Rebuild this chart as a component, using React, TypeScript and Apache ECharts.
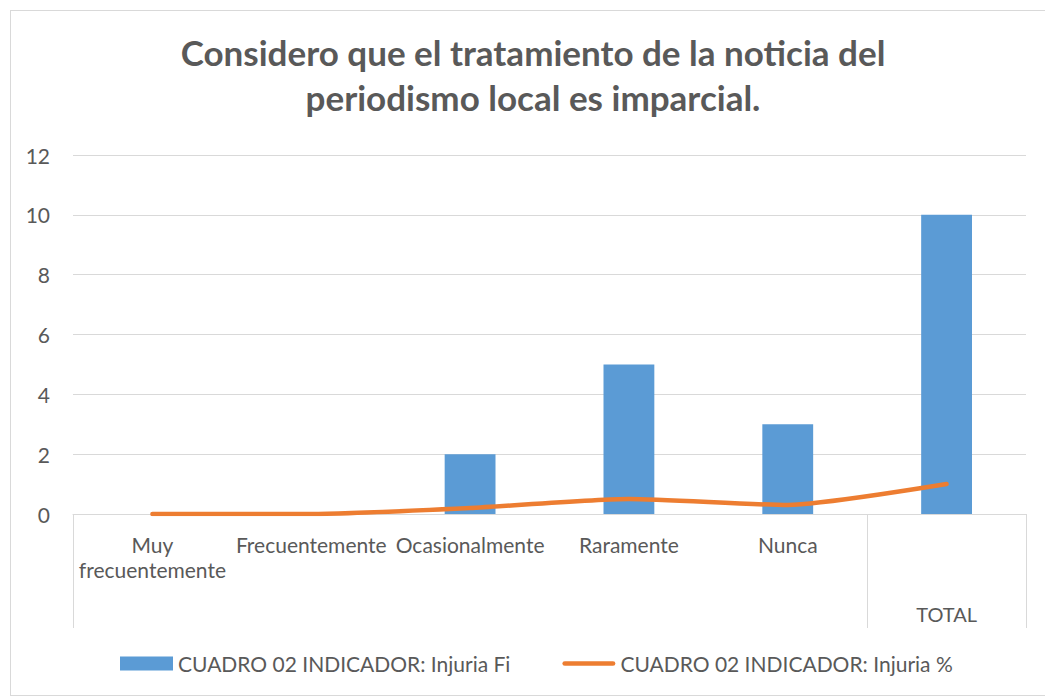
import React, { useEffect, useRef } from "react";
import * as echarts from "echarts";

const categories = ["Muy\nfrecuentemente", "Frecuentemente", "Ocasionalmente", "Raramente", "Nunca", "TOTAL"];
const fiValues = [0, 0, 2, 5, 3, 10];
const pctValues = [0, 0, 0.2, 0.5, 0.3, 1];
const yTicks = { min: 0, max: 12, interval: 2 };
const titleText = "Considero que el tratamiento de la noticia del\nperiodismo local es imparcial.";
const seriesNames = ["CUADRO 02 INDICADOR: Injuria Fi", "CUADRO 02 INDICADOR: Injuria %"];

const FONT = "Lato";
const TXT = "#595959";
const GRID = "#d9d9d9";
const BLUE = "#5B9BD5";
const ORANGE = "#ED7D31";

export default function App() {
  const ref = useRef<HTMLDivElement>(null);
  useEffect(() => {
    if (!ref.current) return;
    const chart = echarts.init(ref.current, undefined, { renderer: "svg" });
    chart.setOption({
      animation: false,
      textStyle: { fontFamily: FONT },
      title: {
        text: titleText,
        left: 517,
        textAlign: "center",
        top: 13,
        textStyle: { fontFamily: FONT, fontSize: 35, fontWeight: "bold", color: TXT, lineHeight: 45 },
      },
      grid: { left: 62, top: 144, width: 953, height: 359 },
      legend: {
        left: 104,
        top: 637,
        itemGap: 52,
        itemWidth: 53,
        itemHeight: 14,
        textStyle: { fontFamily: FONT, fontSize: 21, color: TXT },
        data: [
          { name: seriesNames[0], icon: "rect", itemStyle: { color: BLUE } },
          { name: seriesNames[1], icon: "path://M2.5,0H53.5A2.5,2.5,0,0,1,53.5,5H2.5A2.5,2.5,0,0,1,2.5,0Z", itemStyle: { color: ORANGE } },
        ],
      },
      xAxis: {
        type: "category",
        data: categories,
        axisLine: { show: true, lineStyle: { color: GRID, width: 1 } },
        axisTick: { show: false },
        axisLabel: {
          interval: 0,
          margin: 18,
          fontFamily: FONT,
          fontSize: 21,
          lineHeight: 25,
          color: TXT,
          formatter: (v: string) => (v === "TOTAL" ? "{t|TOTAL}" : v),
          rich: { t: { fontFamily: FONT, fontSize: 20, color: TXT, lineHeight: 163 } },
        },
      },
      yAxis: {
        type: "value",
        min: yTicks.min,
        max: yTicks.max,
        interval: yTicks.interval,
        axisLine: { show: false },
        axisTick: { show: false },
        axisLabel: { fontFamily: FONT, fontSize: 21, color: TXT, margin: 23 },
        splitLine: { lineStyle: { color: GRID, width: 1 } },
      },
      series: [
        {
          name: seriesNames[0],
          type: "bar",
          data: fiValues,
          barWidth: "32%",
          itemStyle: { color: BLUE },
        },
        {
          name: seriesNames[1],
          type: "line",
          data: pctValues,
          smooth: 0.2,
          symbol: "none",
          lineStyle: { color: ORANGE, width: 4.5, cap: "round", join: "round" },
          itemStyle: { color: ORANGE },
          z: 3,
        },
      ],
    });
    // category group separators (multi-level axis look)
    const c0 = chart.convertToPixel({ xAxisIndex: 0 }, categories[0]) as number;
    const c1 = chart.convertToPixel({ xAxisIndex: 0 }, categories[1]) as number;
    const c4 = chart.convertToPixel({ xAxisIndex: 0 }, categories[4]) as number;
    const c5 = chart.convertToPixel({ xAxisIndex: 0 }, categories[5]) as number;
    const half = (c1 - c0) / 2;
    const y0 = chart.convertToPixel({ yAxisIndex: 0 }, 0) as number;
    const xs = [c0 - half, (c4 + c5) / 2, c5 + half];
    chart.setOption({
      graphic: xs.map((x) => ({
        type: "line",
        shape: { x1: Math.round(x) + 0.5, y1: y0, x2: Math.round(x) + 0.5, y2: y0 + 114 },
        style: { stroke: GRID, lineWidth: 1 },
      })),
    });
    return () => chart.dispose();
  }, []);
  return (
    <div style={{ padding: "2px 0 0 2px" }}>
      <div ref={ref} style={{ width: 1035, height: 684, border: "1px solid #d9d9d9", background: "#fff" }} />
    </div>
  );
}
